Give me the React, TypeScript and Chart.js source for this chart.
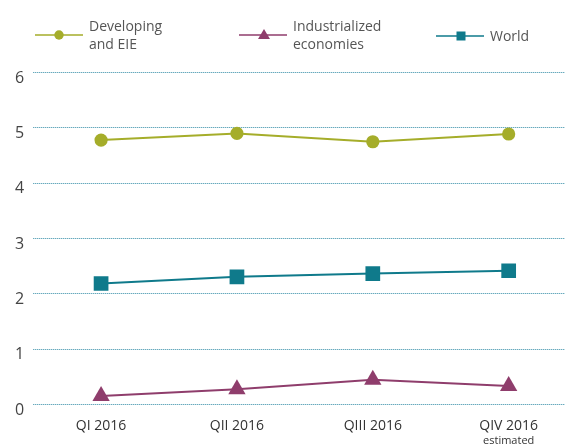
import React, { useEffect, useRef } from "react";
import { Chart, registerables } from "chart.js";

Chart.register(...registerables);

const categories = ["QI 2016", "QII 2016", "QIII 2016", "QIV 2016"];
const subLabels = ["", "", "", "estimated"];
const developing = [4.77, 4.89, 4.74, 4.88];
const industrialized = [0.15, 0.27, 0.44, 0.33];
const world = [2.18, 2.3, 2.36, 2.41];
const yTicks = [0, 1, 2, 3, 4, 5, 6];

const OLIVE = "#a5ad2a";
const PLUM = "#8f3d6c";
const TEAL = "#0f7a8b";
const GRID_DOT = "#6aa9bc";
const GRID_BASE = "#c4e0e8";
const FONT = "'Open Sans', sans-serif";

const dottedGridPlugin = {
  id: "dottedGrid",
  beforeDatasetsDraw(chart: any) {
    const y = chart.scales.y;
    const { left, right } = chart.chartArea;
    const ctx = chart.ctx;
    ctx.save();
    yTicks.forEach((v) => {
      const py = Math.round(y.getPixelForValue(v));
      ctx.fillStyle = GRID_BASE;
      ctx.fillRect(Math.round(left), py, right - left, 1);
      ctx.fillStyle = GRID_DOT;
      for (let px = Math.round(left); px < right; px += 2) {
        ctx.fillRect(px, py, 1, 1);
      }
    });
    ctx.restore();
  },
};

const subLabelPlugin = {
  id: "subLabels",
  afterDraw(chart: any) {
    const x = chart.scales.x;
    const ctx = chart.ctx;
    ctx.save();
    ctx.font = `11px ${FONT}`;
    ctx.fillStyle = "#333";
    ctx.textAlign = "center";
    ctx.textBaseline = "middle";
    subLabels.forEach((s, i) => {
      if (s) ctx.fillText(s, x.getPixelForValue(i), chart.chartArea.bottom + 37);
    });
    ctx.restore();
  },
};

function LegendItem(props: { left: number; color: string; shape: string; lines: string[] }) {
  const { left, color, shape, lines } = props;
  let marker: any = null;
  if (shape === "circle") marker = <circle cx={24} cy={8} r={4.7} fill={color} />;
  if (shape === "triangle") marker = <polygon points="25,2 31,12 19,12" fill={color} />;
  if (shape === "square") marker = <rect x={20.5} y={3.5} width={9} height={9} fill={color} />;
  return (
    <div style={{ position: "absolute", left, top: lines.length > 1 ? 17 : 27, display: "flex", alignItems: "center" }}>
      <svg width={50} height={16} style={{ display: "block" }}>
        <line x1={0} y1={8} x2={48} y2={8} stroke={color} strokeWidth={1.6} />
        {marker}
      </svg>
      <div style={{ marginLeft: 4, font: `14px ${FONT}`, lineHeight: "18px", color: "#555" }}>
        {lines.map((l, i) => (
          <div key={i}>{l}</div>
        ))}
      </div>
    </div>
  );
}

export default function App() {
  const ref = useRef<HTMLCanvasElement>(null);
  useEffect(() => {
    if (!ref.current) return;
    const chart = new Chart(ref.current, {
      type: "line",
      data: {
        labels: categories,
        datasets: [
          {
            label: "Developing and EIE",
            data: developing,
            borderColor: OLIVE,
            backgroundColor: OLIVE,
            borderWidth: 2,
            pointStyle: "circle",
            pointRadius: 6.6,
            pointBorderWidth: 0,
          },
          {
            label: "Industrialized economies",
            data: industrialized,
            borderColor: PLUM,
            backgroundColor: PLUM,
            borderWidth: 2,
            pointStyle: "triangle",
            pointRadius: 10,
            pointBorderWidth: 0,
          },
          {
            label: "World",
            data: world,
            borderColor: TEAL,
            backgroundColor: TEAL,
            borderWidth: 2,
            pointStyle: "rect",
            pointRadius: 10.4,
            pointBorderWidth: 0,
          },
        ],
      },
      options: {
        animation: false,
        responsive: true,
        maintainAspectRatio: false,
        layout: { padding: { top: 72, left: 14, right: 0, bottom: 0 } },
        plugins: { legend: { display: false }, tooltip: { enabled: false } },
        scales: {
          x: {
            offset: true,
            grid: { display: false, drawTicks: false },
            border: { display: false },
            ticks: { color: "#333", font: { family: FONT, size: 14 }, padding: 13, maxRotation: 0 },
          },
          y: {
            min: yTicks[0],
            max: yTicks[yTicks.length - 1],
            afterBuildTicks: (axis: any) => {
              axis.ticks = yTicks.map((v) => ({ value: v }));
            },
            grid: { display: false, drawTicks: false },
            border: { display: false },
            ticks: { color: "#444", font: { family: FONT, size: 16 }, padding: 9, labelOffset: 6 },
          },
        },
      },
      plugins: [dottedGridPlugin, subLabelPlugin],
    } as any);
    return () => chart.destroy();
  }, []);

  return (
    <div style={{ position: "fixed", left: 0, top: 0, width: 565, height: 444, overflow: "hidden", background: "#fff" }}>
      <div style={{ position: "absolute", left: -8, top: 0, width: 595, height: 447 }}>
        <canvas ref={ref} />
      </div>
      <LegendItem left={35} color={OLIVE} shape="circle" lines={["Developing", "and EIE"]} />
      <LegendItem left={239} color={PLUM} shape="triangle" lines={["Industrialized", "economies"]} />
      <LegendItem left={436} color={TEAL} shape="square" lines={["World"]} />
    </div>
  );
}
